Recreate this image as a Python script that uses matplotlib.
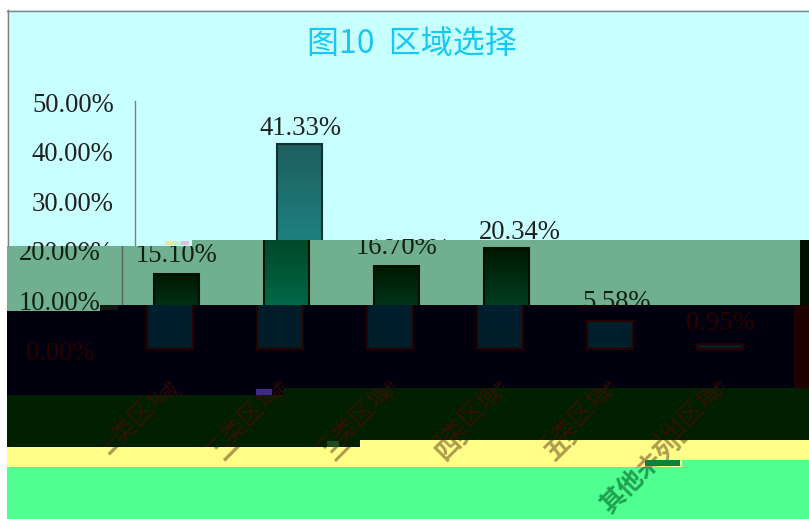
import numpy as np
import matplotlib
matplotlib.use('Agg')
import matplotlib.pyplot as plt
from matplotlib.lines import Line2D
from matplotlib.patches import Rectangle
from matplotlib.text import Text
from matplotlib.transforms import Affine2D, Bbox
from matplotlib.ticker import FuncFormatter

plt.rcParams['font.family'] = ['Noto Sans CJK SC', 'DejaVu Sans']

# chart data (category names are not legible in the picture)
categories = ['一类区域', '二类区域', '三类区域', '四类区域', '五类区域', '其他未列出区域']
shares = [15.10, 41.33, 16.70, 20.34, 5.58, 0.95]
y_ticks = [0, 10, 20, 30, 40, 50]
title = '图10  区域选择'

W, H = 809, 519
fig = plt.figure(figsize=(W / 100, H / 100), dpi=100, facecolor='white')
# pixel coordinates of the picture, y going down
px = Affine2D().scale(1, -1).translate(0, H)

# the picture is broken into horizontal bands, each with its own colours and shift
bands = {
    'A': dict(dx=0, bg='#C8FFFF', fg='#202020', cat='#202020', axis='#808080', edge='#103030',
              c0=(30, 95, 95), c1=(32, 165, 165), off=9, weight='normal'),
    'B': dict(dx=-13, bg='#70B090', fg='#102010', cat='#102010', axis='#506858', edge='#001000',
              c0=(0, 25, 0), c1=(0, 125, 90), off=12, weight='normal'),
    'C': dict(dx=-19.5, bg='#00000F', fg='#2A0000', cat='#2A0808', axis='#000010', edge='#280000',
              c0=(0, 32, 46), c1=(0, 28, 40), off=14, weight='normal'),
    'D': dict(dx=-29.5, bg='#002000', fg='#1A1000', cat='#301400', axis='#002000', edge='#002000',
              c0=(0, 32, 0), c1=(0, 32, 0), off=14, weight='normal'),
    'E': dict(dx=-18, bg='#FFFF88', fg='#B09A50', cat='#B09A50', axis='#FFFF88', edge='#FFFF88',
              c0=(255, 255, 136), c1=(255, 255, 136), off=14, weight='bold'),
    'F': dict(dx=-19.5, bg='#50FF90', fg='#20A050', cat='#20A050', axis='#50FF90', edge='#50FF90',
              c0=(80, 255, 144), c1=(80, 255, 144), off=14, weight='bold'),
}
# x0, y0, x1, y1 of every rectangular piece of a band
pieces = [
    ('A', 7, 10, 192, 246), ('A', 192, 10, 809, 240),
    ('B', 7, 246, 100, 311), ('B', 100, 246, 192, 305), ('B', 192, 240, 809, 305),
    ('C', 7, 311, 100, 395), ('C', 100, 305, 283, 395), ('C', 283, 305, 809, 388),
    ('D', 7, 395, 283, 447), ('D', 283, 388, 360, 447), ('D', 360, 388, 809, 440),
    ('E', 7, 447, 360, 467), ('E', 360, 440, 682, 467), ('E', 682, 440, 809, 460),
    ('F', 7, 467, 682, 519), ('F', 682, 460, 809, 519),
]


def draw_piece(name, x0, y0, x1, y1):
    s = bands[name]
    fig.add_artist(Rectangle((x0, y0), x1 - x0, y1 - y0, transform=px, fc=s['bg'], ec='none', zorder=0))
    clip = Bbox.from_extents(x0, H - y1, x1, H - y0)

    ax = fig.add_axes([(134.5 + s['dx']) / W, (H - 349) / H, 660 / W, 248 / H], zorder=2)
    ax.patch.set_visible(False)
    for side in ['top', 'right', 'bottom']:
        ax.spines[side].set_visible(False)
    ax.spines['left'].set_color(s['axis'])
    ax.spines['left'].set_linewidth(1)

    # bars, gradient per bar, dark at the top
    for i, v in enumerate(shares):
        t = np.linspace(0, 1, 64)[:, None]
        b = t * (0.3 + 0.7 * v / max(shares))
        rgb = (np.array(s['c0']) + b[..., None] * (np.array(s['c1']) - np.array(s['c0']))) / 255
        ax.imshow(rgb, extent=[i - 0.205, i + 0.205, 0, v], aspect='auto', zorder=2)
        ax.bar(i, v, width=0.41, fc='none', ec=s['edge'], lw=1.5, zorder=3)
        ax.annotate(f'{v:.2f}%', (i, v), xytext=(0.5, s['off']), textcoords='offset pixels',
                    ha='center', va='baseline', color=s['fg'], fontsize=19.2,
                    family='Liberation Serif', annotation_clip=False, zorder=4)

    ax.set_xlim(-0.5, 5.5)
    ax.set_ylim(0, 50)
    ax.set_yticks(y_ticks)
    ax.yaxis.set_major_formatter(FuncFormatter(lambda v, p: f'{v:.2f}%'))
    ax.tick_params(axis='y', length=0, pad=15, labelsize=19.2, labelcolor=s['fg'])
    ax.set_xticks(range(len(categories)))
    ax.set_xticklabels(categories, rotation=45, ha='right', rotation_mode='anchor')
    ax.tick_params(axis='x', length=0, pad=20, labelsize=18, labelcolor=s['cat'])
    for lab in ax.get_xticklabels():
        lab.set_fontweight(s['weight'])
    fig.canvas.draw()

    for lab in ax.get_yticklabels():
        lab.set_family('Liberation Serif')
        lab.set_verticalalignment('center')
        lab.set_transform(lab.get_transform() + Affine2D().translate(0, -4))

    renderer = fig.canvas.get_renderer()
    for a in ax.findobj():
        if a is ax or a is fig:
            continue
        a.set_clip_on(True)
        a.set_clip_box(clip)
        # a text outside this piece is not needed here
        if isinstance(a, Text):
            if not a.get_text() or not a.get_window_extent(renderer).overlaps(clip):
                a.set_visible(False)


for piece in pieces:
    draw_piece(*piece)

# outer border of the chart, only left in the top band
fig.add_artist(Line2D([7, 809], [10.5, 10.5], transform=px, color='#808080', lw=1, zorder=1))
fig.add_artist(Line2D([7.5, 7.5], [10, 246], transform=px, color='#808080', lw=1, zorder=1))

fig.text(412 / W, 1 - 44 / H, title, ha='center', va='center', color='#18C8F0', fontsize=23, zorder=5)

# wrapped strips at the right edge and small damaged blocks
glitches = [
    (800, 240, 9, 65, '#001000'), (794, 305, 15, 83, '#200000'),
    (165, 241, 8, 4, '#E8E8A0'), (173, 241, 8, 4, '#C0F0D0'), (181, 241, 8, 4, '#D8C0E0'),
    (100, 305, 18, 5, '#101810'), (256, 389, 16, 6, '#402890'), (327, 441, 12, 6, '#204820'),
    (645, 460, 35, 6, '#108040'),
]
for x, y, w, h, col in glitches:
    fig.add_artist(Rectangle((x, y), w, h, transform=px, fc=col, ec='none', zorder=3))

fig.savefig('out.png', dpi=100)
